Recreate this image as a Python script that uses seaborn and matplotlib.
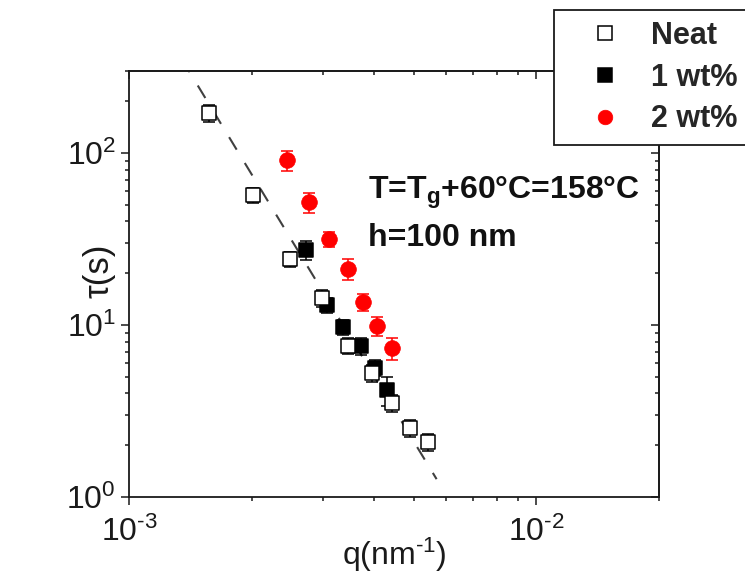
import matplotlib
matplotlib.use("Agg")
import matplotlib.pyplot as plt
import seaborn as sns
from matplotlib.lines import Line2D
from matplotlib.ticker import NullFormatter, FuncFormatter
import numpy as np

# ---- data ----
neat_q = [1.57e-3, 2.02e-3, 2.49e-3, 2.97e-3, 3.44e-3, 3.94e-3, 4.43e-3, 4.89e-3, 5.41e-3]
neat_tau = [171, 57, 24.2, 14.4, 7.55, 5.26, 3.52, 2.52, 2.09]
neat_err = [20, 6, 2.5, 1.6, 0.8, 0.6, 0.4, 0.3, 0.25]

wt1_q = [2.72e-3, 3.06e-3, 3.35e-3, 3.71e-3, 4.01e-3, 4.31e-3]
wt1_tau = [27.3, 13.1, 9.73, 7.55, 5.62, 4.19]
wt1_err = [3.5, 1.3, 1.0, 0.9, 0.6, 0.8]

wt2_q = [2.44e-3, 2.76e-3, 3.09e-3, 3.44e-3, 3.75e-3, 4.07e-3, 4.41e-3]
wt2_tau = [91, 51.9, 31.6, 21.2, 13.6, 9.87, 7.35]
wt2_err = [12, 7, 3, 3, 1.5, 1.2, 1.1]

fit_q = [1.35e-3, 5.69e-3]
fit_tau = [349, 1.27]

legend_labels = ["Neat", "1 wt%", "2 wt%"]

# ---- style ----
sns.set_theme(style="ticks")
plt.rcParams['font.family'] = ['Liberation Sans', 'DejaVu Sans']
plt.rcParams['mathtext.fontset'] = 'custom'
plt.rcParams['mathtext.rm'] = 'Liberation Sans'
plt.rcParams['mathtext.bf'] = 'Liberation Sans:bold'
plt.rcParams['mathtext.default'] = 'regular'

fig = plt.figure(figsize=(7.45, 5.77), dpi=100)
fig.patch.set_facecolor('white')
ax = fig.add_axes([129/745, 1-497/577, 530/745, 426/577])
ax.set_facecolor('white')
ax.set_xscale('log')
ax.set_yscale('log')

# fit line
sns.lineplot(x=fit_q, y=fit_tau, ax=ax, color='#404040', lw=1.5,
             linestyle=(0, (7, 7.5)), estimator=None, sort=False, zorder=2)

ekw = dict(fmt='none', elinewidth=1.1, capsize=4.3, capthick=1.1)
# 1 wt%
ax.errorbar(wt1_q, wt1_tau, yerr=wt1_err, ecolor='black', zorder=2.8, **ekw)
sns.scatterplot(x=wt1_q, y=wt1_tau, ax=ax, marker='s', s=100, color='black',
                edgecolor='black', linewidth=1.1, zorder=3, legend=False)
# Neat
ax.errorbar(neat_q, neat_tau, yerr=neat_err, ecolor='black', zorder=3.8, **ekw)
sns.scatterplot(x=neat_q, y=neat_tau, ax=ax, marker='s', s=100, color='white',
                edgecolor='black', linewidth=1.1, zorder=4, legend=False)
# 2 wt%
ax.errorbar(wt2_q, wt2_tau, yerr=wt2_err, ecolor='#ff0000', zorder=4.8, **ekw)
sns.scatterplot(x=wt2_q, y=wt2_tau, ax=ax, marker='o', s=128, color='#ff0000',
                edgecolor='#ff0000', linewidth=0.5, zorder=5, legend=False)

ax.set_xlim(1e-3, 2e-2)
ax.set_ylim(1, 300)

for sp in ax.spines.values():
    sp.set_linewidth(1.3)
    sp.set_color('#1a1a1a')
    sp.set_visible(True)


def pow10(v, pos):
    e = int(round(np.log10(v)))
    if e < 0:
        return r'$10^{\text{-}%d}$' % (-e)
    return r'$10^{%d}$' % e


ax.xaxis.set_major_formatter(FuncFormatter(pow10))
ax.yaxis.set_major_formatter(FuncFormatter(pow10))
ax.tick_params(which='both', direction='out', top=False, right=False,
               width=1.1, color='#1a1a1a', labelsize=23, labelcolor='#1a1a1a')
ax.tick_params(which='major', length=5.5)
ax.tick_params(which='minor', length=3)
ax.tick_params(axis='y', pad=4)
ax.tick_params(axis='x', pad=9)
ax.xaxis.set_minor_formatter(NullFormatter())
ax.yaxis.set_minor_formatter(NullFormatter())

secx = ax.secondary_xaxis('top')
secx.tick_params(which='both', direction='in', width=1.1, color='#1a1a1a')
secx.tick_params(which='major', length=5.5)
secx.tick_params(which='minor', length=3)
secx.xaxis.set_major_formatter(NullFormatter())
secx.xaxis.set_minor_formatter(NullFormatter())
secx.spines['top'].set_linewidth(1.3)

secy = ax.secondary_yaxis('right')
secy.tick_params(which='both', direction='in', width=1.1, color='#1a1a1a')
secy.tick_params(which='major', length=5.5)
secy.tick_params(which='minor', length=3)
secy.yaxis.set_major_formatter(NullFormatter())
secy.yaxis.set_minor_formatter(NullFormatter())
secy.spines['right'].set_linewidth(1.3)

ax.set_xlabel(r'q(nm$^{\text{-}1}$)', fontsize=23, color='#1a1a1a')
ax.xaxis.set_label_coords(0.5, -0.09)
ax.set_ylabel('τ(s)', fontsize=25, color='#1a1a1a')
ax.yaxis.set_label_coords(-0.025, 0.53)

ax.text((368-129)/530, (497-199)/426, 'T=T$_{g}$+60°C=158°C', transform=ax.transAxes,
        fontsize=23, fontweight='bold', ha='left', va='baseline', color='#111111')
ax.text((368-129)/530, (497-246)/426, 'h=100 nm', transform=ax.transAxes,
        fontsize=23, fontweight='bold', ha='left', va='baseline', color='#111111')

handles = [
    Line2D([], [], ls='none', marker='s', ms=10, mfc='white', mec='black', mew=1.1),
    Line2D([], [], ls='none', marker='s', ms=10, mfc='black', mec='black', mew=1.1),
    Line2D([], [], ls='none', marker='o', ms=10.5, mfc='#ff0000', mec='#ff0000', mew=0.5),
]
leg = fig.legend(handles, legend_labels, loc='upper left',
                 bbox_to_anchor=(554/745, 1-10/577), bbox_transform=fig.transFigure,
                 borderaxespad=0, borderpad=0.36, handlelength=2.6, handletextpad=0.22,
                 labelspacing=0.38, fancybox=False, framealpha=1,
                 prop={'weight': 'bold', 'size': 22})
leg.get_frame().set_edgecolor('#1a1a1a')
leg.get_frame().set_linewidth(1.3)
leg.set_zorder(10)

fig.savefig('out.png', dpi=100)
